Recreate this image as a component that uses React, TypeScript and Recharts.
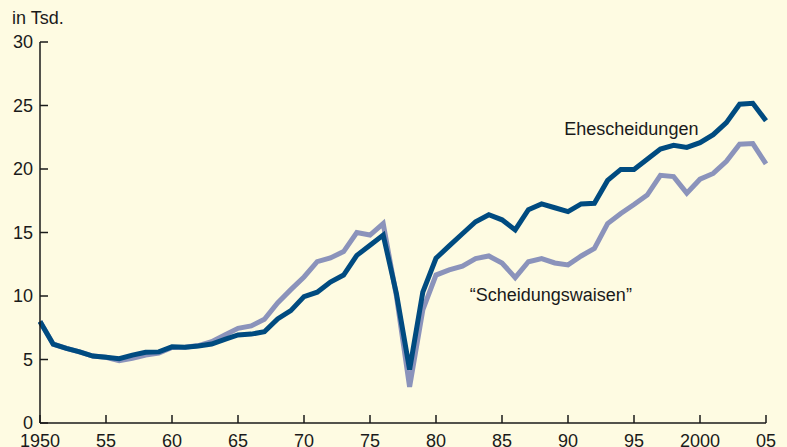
import React from 'react';
import { LineChart, Line, XAxis, YAxis, ReferenceDot } from 'recharts';

const years = [
  1950, 1951, 1952, 1953, 1954, 1955, 1956, 1957, 1958, 1959,
  1960, 1961, 1962, 1963, 1964, 1965, 1966, 1967, 1968, 1969,
  1970, 1971, 1972, 1973, 1974, 1975, 1976, 1977, 1978, 1979,
  1980, 1981, 1982, 1983, 1984, 1985, 1986, 1987, 1988, 1989,
  1990, 1991, 1992, 1993, 1994, 1995, 1996, 1997, 1998, 1999,
  2000, 2001, 2002, 2003, 2004, 2005,
];

// Ehescheidungen, in Tsd.
const divorces = [
  8.0, 6.2, 5.88, 5.6, 5.27, 5.17, 5.06, 5.35, 5.57, 5.6,
  6.0, 5.96, 6.06, 6.22, 6.59, 6.93, 7.0, 7.19, 8.2, 8.85,
  9.95, 10.3, 11.1, 11.65, 13.2, 14.0, 14.8, 10.2, 4.2, 10.3,
  12.97, 13.95, 14.9, 15.85, 16.4, 16.0, 15.2, 16.8, 17.25, 16.95,
  16.65, 17.25, 17.3, 19.1, 19.97, 19.97, 20.76, 21.57, 21.86, 21.7,
  22.07, 22.7, 23.65, 25.1, 25.17, 23.8,
];

// "Scheidungswaisen", in Tsd.
const orphans = [
  8.0, 6.2, 5.88, 5.6, 5.27, 5.17, 4.9, 5.1, 5.35, 5.5,
  5.95, 5.96, 6.1, 6.4, 6.93, 7.45, 7.64, 8.17, 9.45, 10.5,
  11.5, 12.7, 13.0, 13.5, 15.0, 14.8, 15.7, 10.0, 2.85, 8.9,
  11.65, 12.05, 12.35, 12.95, 13.15, 12.6, 11.45, 12.7, 12.95, 12.6,
  12.45, 13.15, 13.75, 15.7, 16.5, 17.2, 17.95, 19.5, 19.4, 18.1,
  19.2, 19.65, 20.6, 21.95, 22.0, 20.4,
];

const xTicks = [1950, 1955, 1960, 1965, 1970, 1975, 1980, 1985, 1990, 1995, 2000, 2005];
const yTicks = [0, 5, 10, 15, 20, 25, 30];

const data = years.map((year, i) => ({ year, divorces: divorces[i], orphans: orphans[i] }));

const fontFamily = '"Liberation Sans", Arial, sans-serif';
const bg = '#fefbe2';
const ink = '#1a1a1a';

const yearLabel = (v: number) => (v === 1950 || v === 2000 ? String(v) : String(v % 100).padStart(2, '0'));

export default function App() {
  return (
    <div style={{ position: 'absolute', left: 0, top: 0, width: 787, height: 447, background: bg, fontFamily }}>
      <div style={{ position: 'absolute', left: 12, top: 6, fontSize: 18, color: ink, lineHeight: '24px' }}>in Tsd.</div>
      <LineChart width={787} height={447} data={data} margin={{ top: 42, right: 21, bottom: 0, left: 0 }}>
        <XAxis
          dataKey="year"
          type="number"
          domain={[1950, 2005]}
          ticks={xTicks}
          interval={0}
          tickFormatter={yearLabel}
          height={24}
          tickSize={-8}
          tickMargin={19}
          axisLine={{ stroke: ink, strokeWidth: 1.5 }}
          tickLine={{ stroke: ink, strokeWidth: 1.5 }}
          tick={{ fill: ink, fontSize: 18, fontFamily }}
        />
        <YAxis
          type="number"
          domain={[0, 30]}
          ticks={yTicks}
          interval={0}
          width={40}
          tickSize={-8}
          tickMargin={15}
          axisLine={{ stroke: ink, strokeWidth: 1.5 }}
          tickLine={{ stroke: ink, strokeWidth: 1.5 }}
          tick={{ fill: ink, fontSize: 18, fontFamily }}
        />
        <Line
          type="linear"
          dataKey="orphans"
          stroke="#8b93bb"
          strokeWidth={5}
          dot={false}
          isAnimationActive={false}
        />
        <Line
          type="linear"
          dataKey="divorces"
          stroke="#004b80"
          strokeWidth={5}
          dot={false}
          isAnimationActive={false}
        />
        <ReferenceDot
          x={1994.8}
          y={23.2}
          r={0}
          label={{ value: 'Ehescheidungen', position: 'center', fill: ink, fontSize: 18, fontFamily }}
        />
        <ReferenceDot
          x={1988.7}
          y={10.1}
          r={0}
          label={{ value: '\u201cScheidungswaisen\u201d', position: 'center', fill: ink, fontSize: 18, fontFamily }}
        />
      </LineChart>
    </div>
  );
}
